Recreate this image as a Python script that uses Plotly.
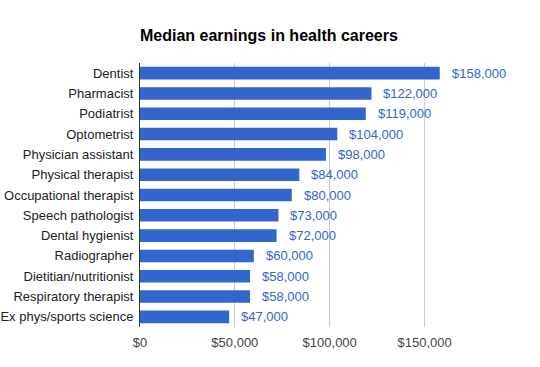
import plotly.graph_objects as go

careers = ["Dentist", "Pharmacist", "Podiatrist", "Optometrist", "Physician assistant",
           "Physical therapist", "Occupational therapist", "Speech pathologist",
           "Dental hygienist", "Radiographer", "Dietitian/nutritionist",
           "Respiratory therapist", "Ex phys/sports science"]
earnings = [158000, 122000, 119000, 104000, 98000, 84000, 80000, 73000, 72000,
            60000, 58000, 58000, 47000]
x_ticks = [0, 50000, 100000, 150000]
x_tick_labels = ["$0", "$50,000", "$100,000", "$150,000"]

BLUE = "#3366cc"
FONT = "Liberation Sans, Arial, sans-serif"

fig = go.Figure(go.Bar(
    x=earnings, y=careers, orientation="h",
    marker=dict(color=BLUE, line=dict(width=0)),
    hoverinfo="skip",
))

for c, v in zip(careers, earnings):
    fig.add_annotation(x=v, y=c, xref="x", yref="y", text=f"${v:,}",
                       showarrow=False, xanchor="left", xshift=10,
                       font=dict(family=FONT, size=13, color=BLUE))

fig.update_layout(
    width=540, height=367,
    margin=dict(l=139.5, r=68, t=63, b=40, autoexpand=False),
    paper_bgcolor="white", plot_bgcolor="white",
    bargap=0.38,
    showlegend=False,
    title=dict(text="<b>Median earnings in health careers</b>", x=0, xanchor="left",
               xref="paper", y=1 - 35/367, yanchor="middle",
               font=dict(family=FONT, size=16, color="#000")),
    font=dict(family=FONT, size=13, color="#222"),
)
fig.update_xaxes(range=[0, 175000], tickvals=x_ticks, ticktext=x_tick_labels,
                 showgrid=True, gridcolor="#cccccc", gridwidth=1, zeroline=False,
                 showline=False, ticks="outside", ticklen=3, tickcolor="rgba(0,0,0,0)",
                 tickfont=dict(family=FONT, size=13, color="#444"), fixedrange=True)
fig.update_yaxes(autorange="reversed", showgrid=False, zeroline=False,
                 showline=True, linecolor="#333333", linewidth=1,
                 ticks="", ticklabelstandoff=3,
                 tickfont=dict(family=FONT, size=13, color="#222"), fixedrange=True)

fig.write_html("out.html", config={"displayModeBar": False},
               post_script="document.body.style.margin='0';document.body.style.padding='0';")
